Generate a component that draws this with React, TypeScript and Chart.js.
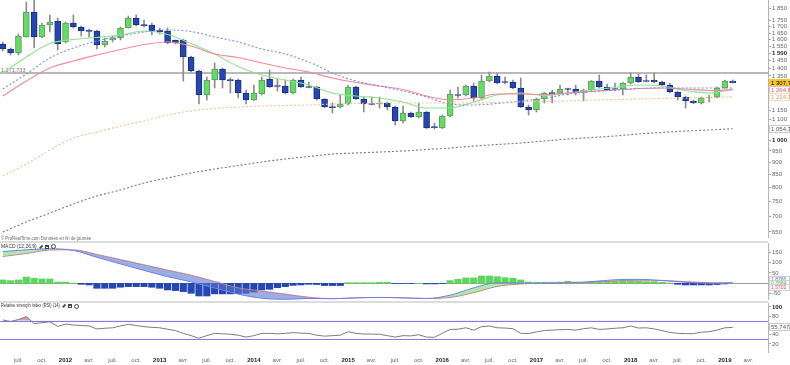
import React, { useEffect, useRef } from "react";
import { Chart, registerables } from "chart.js";
Chart.register(...registerables);

const FONT = '"Liberation Sans", Arial, sans-serif';

// ---- Monthly candles, index 0 = May 2011 ... index 93 = Feb 2019
const opens = [1567.8,1531.5,1503.1,1620.0,1821.3,1620.0,1713.7,1746.1,1582.5,1729.8,1697.7,1666.2,1666.2,1560.4,1597.4,1612.5,1689.8,1770.8,1713.7,1713.7,1674.0,1666.2,1597.4,1597.4,1475.2,1381.5,1234.7,1324.5,1394.6,1324.5,1324.5,1246.3,1206.0,1240.4,1330.7,1287.8,1287.8,1246.3,1324.5,1281.8,1281.8,1211.7,1167.1,1167.1,1183.6,1281.8,1211.7,1183.6,1183.6,1189.2,1167.1,1093.1,1134.8,1113.8,1140.2,1062.8,1057.8,1119.0,1234.7,1234.7,1287.8,1217.4,1318.3,1349.5,1312.2,1312.2,1275.8,1167.1,1150.9,1211.7,1246.3,1246.3,1269.8,1269.8,1246.3,1263.9,1318.3,1281.8,1269.8,1269.8,1306.0,1343.2,1318.3,1324.5,1312.2,1293.8,1252.1,1223.2,1200.4,1189.2,1217.4,1223.2,1275.8,1318.3];
const highs = [1582.5,1538.7,1642.9,1908.6,1926.6,1729.8,1795.9,1770.8,1738.0,1795.9,1705.7,1681.9,1674.0,1612.5,1627.6,1697.7,1787.5,1795.9,1754.3,1729.8,1689.8,1689.8,1597.4,1604.9,1482.1,1388.0,1343.2,1434.3,1401.1,1337.0,1330.7,1263.9,1293.8,1343.2,1388.0,1330.7,1324.5,1330.7,1343.2,1312.2,1287.8,1214.0,1189.2,1234.7,1293.8,1287.8,1223.2,1223.2,1223.2,1194.8,1172.6,1172.6,1140.2,1189.2,1143.0,1082.9,1124.3,1263.9,1281.8,1293.8,1306.0,1355.9,1375.1,1368.6,1343.2,1324.5,1337.0,1178.1,1217.4,1249.0,1263.9,1293.8,1275.8,1293.8,1269.8,1321.0,1355.9,1299.9,1306.0,1309.0,1368.6,1362.2,1355.9,1368.6,1318.3,1306.0,1255.0,1228.9,1206.0,1223.2,1234.7,1281.8,1324.5,1324.5];
const lows = [1517.2,1489.0,1489.0,1620.0,1538.7,1615.0,1658.4,1524.3,1575.1,1689.8,1627.6,1620.0,1531.5,1545.9,1582.5,1597.4,1689.8,1705.7,1697.7,1635.3,1642.9,1571.0,1567.8,1318.3,1375.1,1183.6,1206.0,1275.8,1275.8,1246.3,1217.4,1183.6,1203.0,1234.7,1279.0,1258.0,1240.4,1240.4,1279.0,1275.8,1206.0,1164.0,1134.8,1161.7,1178.1,1209.0,1140.2,1178.1,1161.7,1150.9,1072.8,1082.9,1111.0,1108.5,1055.0,1052.9,1055.0,1113.8,1217.4,1228.9,1200.4,1211.7,1312.2,1299.9,1299.9,1269.8,1164.0,1124.3,1140.2,1189.2,1189.2,1240.4,1234.7,1234.7,1200.4,1258.0,1275.8,1261.0,1258.0,1234.7,1299.9,1309.0,1312.2,1306.0,1287.8,1246.3,1206.0,1161.7,1186.0,1183.6,1194.8,1217.4,1273.0,1306.0];
const closes = [1531.5,1503.1,1627.6,1821.3,1620.0,1713.7,1738.0,1567.8,1729.8,1697.7,1666.2,1663.0,1560.4,1589.9,1612.5,1689.8,1770.8,1713.7,1709.0,1666.2,1658.4,1575.1,1575.1,1475.2,1381.5,1234.7,1324.5,1394.6,1324.5,1321.0,1246.3,1206.0,1246.3,1324.5,1281.8,1285.0,1246.3,1324.5,1281.8,1279.0,1211.7,1167.1,1164.0,1183.6,1281.8,1211.7,1183.6,1181.0,1189.2,1167.1,1093.1,1134.8,1113.8,1140.2,1057.8,1060.0,1119.0,1240.4,1232.0,1287.8,1217.4,1318.3,1349.5,1306.0,1309.0,1275.8,1167.1,1150.9,1211.7,1246.3,1243.0,1269.8,1267.0,1246.3,1263.9,1318.3,1281.8,1263.9,1267.0,1306.0,1343.2,1312.2,1315.0,1312.2,1293.8,1252.1,1223.2,1200.4,1189.2,1217.4,1223.2,1275.8,1318.3,1307.76];

// ---- Moving averages read every 3 months
const maMonths = [0,3,6,9,12,15,18,21,24,27,30,33,36,39,42,45,48,51,54,57,60,63,66,69,72,75,78,81,84,87,90,93];
const maGreen = [1368.6,1475.2,1571.4,1601.2,1616.2,1635.3,1666.2,1639.1,1571.4,1496.0,1411.0,1355.9,1324.5,1293.8,1246.3,1228.9,1217.4,1194.8,1161.7,1161.7,1194.8,1234.7,1246.3,1231.8,1246.3,1263.9,1278.8,1293.8,1287.8,1261.0,1246.3,1269.8];
const maRed = [1228.9,1318.3,1401.1,1447.8,1489.0,1527.9,1564.1,1582.5,1553.2,1496.0,1471.7,1434.3,1401.1,1375.1,1337.0,1309.1,1287.8,1266.9,1228.9,1206.0,1217.4,1240.4,1240.4,1237.6,1246.3,1255.0,1263.9,1272.8,1275.8,1269.8,1261.0,1264.88];
const maBlue = [1269.8,1362.2,1468.3,1538.7,1589.9,1627.6,1658.4,1674.0,1662.3,1620.0,1582.5,1531.5,1496.0,1441.0,1368.6,1318.3,1287.8,1258.0,1223.2,1183.6,1178.1,1186.4,1200.4,1214.5,1240.4,1255.0,1263.9,1272.8,1275.8,1275.8,1275.8,1275.8];
const maOrange = [844.8,893.7,954.2,1009.4,1038.2,1067.8,1093.1,1124.3,1145.5,1159.0,1167.1,1172.6,1175.3,1178.1,1183.6,1186.4,1189.2,1189.2,1189.2,1189.2,1189.2,1192.0,1194.8,1197.6,1200.4,1206.0,1208.8,1211.7,1214.5,1217.4,1220.3,1224.19];
const maBlack = [649.9,681.1,710.4,741.0,769.3,791.2,817.6,837.0,856.8,873.0,887.4,902.1,914.9,925.6,936.5,940.9,945.3,949.8,956.5,963.2,972.3,979.1,986.0,995.3,1004.7,1011.8,1018.9,1028.5,1035.8,1043.0,1048.0,1054.36];

const levelLine = 1371.733;
const mainTicks = [650,700,750,800,850,900,950,1000,1100,1150,1350,1400,1450,1500,1550,1600,1650,1700,1750,1850];
const mainBoldTicks = [1000, 1500];

// ---- MACD (12,26,9)
const macdHist = [16,13,16,30,24,21,21,6,6,1,-5,-8,-24,-24,-24,-19,-16,-16,-16,-19,-24,-32,-35,-40,-48,-61,-61,-51,-51,-51,-50,-48,-42,-32,-29,-21,-16,-10,-8,-5,-6,-11,-11,-11,3,3,3,3,5,5,-1,-1,-1,0,-3,-3,-1,13,19,26,26,35,35,32,27,24,16,6,5,5,5,6,10,6,3,8,10,10,10,13,11,10,8,8,5,1,-5,-8,-8,-8,-8,-6,-3,1];
const macdLine = [153,161,166,158,125,93,62,32,7,-23,-52,-72,-77,-73,-74,-70,-68,-70,-73,-57,-22,3,1,0,2,8,17,19,13,5,0,2];
const macdSignal = [129,143,160,161,139,114,89,64,39,9,-22,-37,-52,-67,-74,-70,-68,-70,-73,-68,-45,-15,-3,0,1,5,11,15,14,8,3,2];
const macdTicks = [-50, 50, 100, 150];
const macdTagValues = [1.8786, 0.3084, 1.5702];
const macdTagColors = ["#5a6ee0", "#3cb43c", "#e0506a"];

// ---- RSI (14)
const rsiValues = [72,68.5,73,79,64,66,68,58,63,61,60,59,52.5,54,55,59,62.5,60,57.5,56,55,52,49,43,38,32.5,38,43,42,41,39,35,38,43,43,42,43,44.5,43.5,43,39,37,38,39,46.5,43,41.5,41.5,41,38,35,38,37.5,40,35,34.5,43,51.5,52,55,50,57.5,59,55,54.5,53,43,42.5,46,49,50,51,51.5,50,53,55,51.5,52.5,54,55,59,54.5,55,52.5,49,45,43,42.4,42.4,45.5,46.5,50,55,55.747];
const rsiTicks = [20, 40, 60, 80, 100];
const rsiBoldTicks = [100];
const rsiLevels = [70, 30];

// ---- x axis
const xTickMonths = [2,5,8,11,14,17,20,23,26,29,32,35,38,41,44,47,50,53,56,59,62,65,68,71,74,77,80,83,86,89,92,95];
const xTickLabels = ["juil.","oct.","2012","avr.","juil.","oct.","2013","avr.","juil.","oct.","2014","avr.","juil.","oct.","2015","avr.","juil.","oct.","2016","avr.","juil.","oct.","2017","avr.","juil.","oct.","2018","avr.","juil.","oct.","2019","avr."];

const X_MIN = -0.35;
const X_MAX = 97.5;
const AXIS_W = 22;

function frNum(v: number, dec: number): string {
  const fixed = v.toFixed(dec);
  const parts = fixed.split(".");
  const neg = parts[0].startsWith("-");
  const digits = neg ? parts[0].slice(1) : parts[0];
  const grouped = digits.replace(/\B(?=(\d{3})+(?!\d))/g, " ");
  return (neg ? "-" : "") + grouped + (parts[1] ? "," + parts[1] : "");
}

function fixY(scale: any) {
  scale.width = AXIS_W;
  scale.paddingTop = 0;
  scale.paddingBottom = 0;
}

function hiddenX() {
  return { type: "linear", min: X_MIN, max: X_MAX, offset: false, display: false, bounds: "data" };
}

function yAxisCommon(ticks: number[], bold: number[], fmt: (v: number) => string) {
  return {
    position: "right",
    bounds: "data",
    afterFit: fixY,
    afterBuildTicks: (s: any) => { s.ticks = ticks.map((v) => ({ value: v })); },
    grid: { drawOnChartArea: false, drawTicks: true, tickLength: 3, color: "#a8a8a8" },
    border: { display: true, color: "#b4b4b4" },
    ticks: {
      autoSkip: false,
      padding: 1,
      callback: (v: any) => fmt(Number(v)),
      font: (c: any) => ({ family: FONT, size: 6, weight: c.tick && bold.includes(c.tick.value) ? "bold" : "normal" }),
      color: (c: any) => (c.tick && bold.includes(c.tick.value) ? "#222" : "#666"),
    },
  };
}

type Tag = { value: number; text: string; fg: string; bg: string; border?: string };

function tagsPlugin(id: string, tags: Tag[], fontSize: number, spacing: number, center: boolean) {
  return {
    id,
    afterDraw(chart: any) {
      const ys = chart.scales.y;
      const ctx = chart.ctx;
      const left = chart.chartArea.right + 1;
      const w = chart.width - left;
      const h = fontSize + 2;
      const raw = tags.map((t) => ys.getPixelForValue(t.value));
      const pos = raw.slice();
      for (let k = 1; k < pos.length; k++) {
        if (Math.abs(pos[k] - pos[k - 1]) < spacing) pos[k] = pos[k - 1] + spacing;
      }
      if (center) {
        const mr = raw.reduce((a, b) => a + b, 0) / raw.length;
        const mp = pos.reduce((a, b) => a + b, 0) / pos.length;
        for (let k = 0; k < pos.length; k++) pos[k] += mr - mp;
      }
      ctx.save();
      ctx.font = fontSize + "px " + FONT;
      ctx.textBaseline = "middle";
      tags.forEach((t, k) => {
        const top = Math.round(pos[k] - h / 2);
        ctx.fillStyle = t.bg;
        ctx.fillRect(left, top, w, h);
        if (t.border) {
          ctx.strokeStyle = t.border;
          ctx.lineWidth = 1;
          ctx.strokeRect(left + 0.5, top + 0.5, w - 1, h - 1);
        }
        ctx.fillStyle = t.fg;
        ctx.fillText(t.text, left + 2, top + h / 2 + 0.5);
      });
      ctx.restore();
    },
  };
}

function hLinesPlugin(id: string, values: number[], color: string, width: number) {
  return {
    id,
    beforeDatasetsDraw(chart: any) {
      const ys = chart.scales.y;
      const a = chart.chartArea;
      const ctx = chart.ctx;
      ctx.save();
      ctx.strokeStyle = color;
      ctx.lineWidth = width;
      values.forEach((v) => {
        const y = Math.round(ys.getPixelForValue(v)) + (width % 2 ? 0.5 : 0);
        ctx.beginPath();
        ctx.moveTo(a.left, y);
        ctx.lineTo(a.right, y);
        ctx.stroke();
      });
      ctx.restore();
    },
  };
}

const levelPlugin = {
  id: "levelLine",
  beforeDatasetsDraw(chart: any) {
    const ys = chart.scales.y;
    const a = chart.chartArea;
    const ctx = chart.ctx;
    const y = Math.round(ys.getPixelForValue(levelLine));
    ctx.save();
    ctx.strokeStyle = "#b9b9b9";
    ctx.lineWidth = 2;
    ctx.beginPath();
    ctx.moveTo(a.left, y);
    ctx.lineTo(a.right, y);
    ctx.stroke();
    ctx.font = "5.5px " + FONT;
    ctx.fillStyle = "#777";
    ctx.textBaseline = "bottom";
    ctx.fillText(frNum(levelLine, 3), 1, y);
    ctx.restore();
  },
};

function maDataset(values: number[], color: string, dash: number[]) {
  return {
    type: "line",
    data: maMonths.map((m, k) => ({ x: m, y: values[k] })),
    borderColor: color,
    borderWidth: 1.1,
    borderDash: dash,
    pointRadius: 0,
    cubicInterpolationMode: "monotone",
    fill: false,
    order: 1,
  };
}

const baseOptions = {
  responsive: false,
  animation: false,
  events: [],
  layout: { padding: 0 },
  plugins: { legend: { display: false }, tooltip: { enabled: false } },
};

function Icons({ left, top }: { left: number; top: number }) {
  return (
    <div style={{ position: "absolute", left, top, height: 6, display: "flex", gap: 2, alignItems: "center" }}>
      <div style={{ width: 4, height: 1.5, background: "#555", transform: "rotate(-45deg)" }} />
      <div style={{ width: 4, height: 4, border: "1px solid #444", borderTopWidth: 2, boxSizing: "border-box" }} />
      <div style={{ width: 5, height: 5, borderRadius: "50%", border: "1.5px solid #444", boxSizing: "border-box" }} />
    </div>
  );
}

export default function App() {
  const mainRef = useRef<HTMLCanvasElement>(null);
  const macdRef = useRef<HTMLCanvasElement>(null);
  const rsiRef = useRef<HTMLCanvasElement>(null);

  useEffect(() => {
    const up = opens.map((o, i) => closes[i] >= o);
    const last = closes.length - 1;

    const main = new Chart(mainRef.current as any, {
      type: "bar",
      data: {
        datasets: [
          {
            type: "bar",
            data: lows.map((l, i) => ({ x: i, y: [l, highs[i]] })),
            backgroundColor: "#8c8c8c",
            barThickness: 1,
            grouped: false,
            order: 3,
          },
          {
            type: "bar",
            data: opens.map((o, i) => ({ x: i, y: [o, closes[i]] })),
            backgroundColor: up.map((u) => (u ? "#5ee05e" : "#2447b2")),
            borderColor: up.map((u) => (u ? "#6f8f6f" : "#1a2f7a")),
            borderWidth: 1,
            borderSkipped: false,
            barThickness: 6,
            minBarLength: 1,
            grouped: false,
            order: 2,
          },
          maDataset(maBlack, "#7a7a7a", [2, 2]),
          maDataset(maOrange, "#f7bf92", [2, 2]),
          maDataset(maBlue, "#7c8cf0", [2, 2]),
          maDataset(maRed, "#f4899a", []),
          maDataset(maGreen, "#8ee48e", []),
        ],
      } as any,
      options: {
        ...baseOptions,
        scales: {
          x: hiddenX(),
          y: {
            type: "logarithmic",
            min: 631.9,
            max: 1926.6,
            ...yAxisCommon(mainTicks, mainBoldTicks, (v) => frNum(v, 0)),
          },
        },
      } as any,
      plugins: [
        levelPlugin,
        tagsPlugin("mainTags", [
          { value: closes[last], text: frNum(closes[last], 2), fg: "#000", bg: "#f3c52f" },
          { value: maRed[maRed.length - 1], text: frNum(maRed[maRed.length - 1], 2), fg: "#e8566c", bg: "#fff", border: "#e9c0c6" },
          { value: maOrange[maOrange.length - 1], text: frNum(maOrange[maOrange.length - 1], 2), fg: "#f09a5a", bg: "#fff", border: "#f1dcc8" },
          { value: maBlack[maBlack.length - 1], text: frNum(maBlack[maBlack.length - 1], 2), fg: "#555", bg: "#fff", border: "#c8c8c8" },
        ], 6, 7, false),
      ] as any,
    });

    const macd = new Chart(macdRef.current as any, {
      type: "bar",
      data: {
        datasets: [
          {
            type: "line",
            data: maMonths.map((m, k) => ({ x: m, y: macdLine[k] })),
            borderColor: "#6f80e6",
            borderWidth: 1,
            pointRadius: 0,
            cubicInterpolationMode: "monotone",
            fill: { target: 1, above: "rgba(110,215,110,0.55)", below: "rgba(90,120,205,0.6)" },
            order: 0,
          },
          {
            type: "line",
            data: maMonths.map((m, k) => ({ x: m, y: macdSignal[k] })),
            borderColor: "#ec7a86",
            borderWidth: 1,
            pointRadius: 0,
            cubicInterpolationMode: "monotone",
            fill: false,
            order: 1,
          },
          {
            type: "bar",
            data: macdHist.map((v, i) => ({ x: i, y: v })),
            backgroundColor: macdHist.map((v) => (v >= 0 ? "#5cd65c" : "#2447b2")),
            barThickness: 6.5,
            grouped: false,
            order: 3,
          },
        ],
      } as any,
      options: {
        ...baseOptions,
        scales: {
          x: hiddenX(),
          y: { type: "linear", min: -80.3, max: 193.8, ...yAxisCommon(macdTicks, [], (v) => String(v)) },
        },
      } as any,
      plugins: [
        hLinesPlugin("zero", [0], "#9a9a9a", 1),
        tagsPlugin(
          "macdTags",
          macdTagValues.map((v, k) => ({ value: v, text: frNum(v, 4), fg: macdTagColors[k], bg: "#fff", border: "#cfcfcf" })),
          5, 4, true
        ),
      ] as any,
    });

    const rsi = new Chart(rsiRef.current as any, {
      type: "line",
      data: {
        datasets: [
          {
            data: rsiValues.map((v, i) => ({ x: i, y: v })),
            borderColor: "#7c7c7c",
            borderWidth: 1,
            pointRadius: 0,
            fill: { target: { value: 70 }, above: "rgba(200,115,125,0.7)", below: "rgba(0,0,0,0)" },
          },
        ],
      } as any,
      options: {
        ...baseOptions,
        scales: {
          x: {
            type: "linear",
            min: X_MIN,
            max: X_MAX,
            offset: false,
            bounds: "data",
            afterFit: (s: any) => { s.height = 13; s.paddingLeft = 0; s.paddingRight = 0; },
            afterBuildTicks: (s: any) => { s.ticks = xTickMonths.map((m) => ({ value: m })); },
            grid: { display: false, drawTicks: false },
            border: { display: false },
            ticks: {
              autoSkip: false,
              maxRotation: 0,
              padding: 5,
              callback: (v: any) => xTickLabels[xTickMonths.indexOf(Number(v))] || "",
              font: (c: any) => {
                const lab = c.tick ? xTickLabels[xTickMonths.indexOf(c.tick.value)] : "";
                return { family: FONT, size: 6, weight: /^\d{4}$/.test(lab || "") ? "bold" : "normal" };
              },
              color: (c: any) => {
                const lab = c.tick ? xTickLabels[xTickMonths.indexOf(c.tick.value)] : "";
                return /^\d{4}$/.test(lab || "") ? "#222" : "#666";
              },
            },
          },
          y: { type: "linear", min: 2.7, max: 108.6, ...yAxisCommon(rsiTicks, rsiBoldTicks, (v) => String(v)) },
        },
      } as any,
      plugins: [
        hLinesPlugin("rsiLevels", rsiLevels, "#7b7bf2", 1),
        tagsPlugin("rsiTag", [
          { value: rsiValues[rsiValues.length - 1], text: frNum(rsiValues[rsiValues.length - 1], 3), fg: "#555", bg: "#fff", border: "#c8c8c8" },
        ], 6, 7, false),
      ] as any,
    });

    return () => {
      main.destroy();
      macd.destroy();
      rsi.destroy();
    };
  }, []);

  const sep = (top: number) => (
    <div style={{ position: "absolute", left: 0, top, width: 768, height: 2, background: "#dcdcdc" }} />
  );
  const small = (top: number, size: number, sx: number, color: string) => ({
    position: "absolute" as const,
    left: 1,
    top,
    whiteSpace: "nowrap" as const,
    fontFamily: FONT,
    fontSize: size + "px",
    lineHeight: 1,
    color,
    transform: `scaleX(${sx})`,
    transformOrigin: "left top",
  });

  return (
    <div style={{ position: "absolute", left: 0, top: 0, width: 790, height: 365, background: "#fff", overflow: "hidden" }}>
      <canvas ref={mainRef} width={790} height={238} style={{ position: "absolute", left: 0, top: 0 }} />
      <div style={small(236, 5, 0.86, "#666")}>© ProRealTime.com  Données en fin de journée</div>
      {sep(241)}
      <canvas ref={macdRef} width={790} height={57} style={{ position: "absolute", left: 0, top: 243 }} />
      <div style={small(243.5, 5.5, 0.9, "#333")}>MACD (12,26,9)</div>
      <Icons left={39} top={243.5} />
      {sep(301)}
      <canvas ref={rsiRef} width={790} height={62} style={{ position: "absolute", left: 0, top: 303 }} />
      <div style={small(303, 5.5, 0.72, "#333")}>Relative strength index (RSI) (14)</div>
      <Icons left={62} top={303} />
    </div>
  );
}
